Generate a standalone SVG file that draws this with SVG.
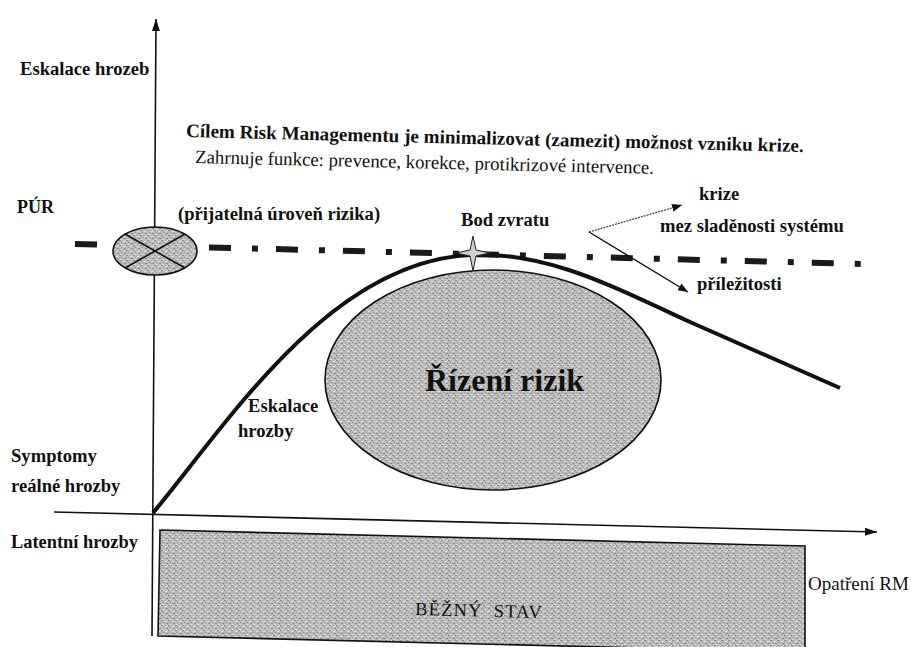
<svg xmlns="http://www.w3.org/2000/svg" width="911" height="647" viewBox="0 0 911 647">
<style>
text { font-family: "Liberation Serif", "Times New Roman", serif; fill: #111; }
.b { font-weight: bold; font-size: 18.6px; }
.r { font-size: 18.8px; }
.ax { stroke: #111; stroke-width: 1.6; fill: none; }
.tex { fill: url(#stip); stroke: #111; stroke-width: 1.6; }
</style>
<defs>
<pattern id="stip" width="7" height="5" patternUnits="userSpaceOnUse">
<rect width="7" height="5" fill="#bababa"/>
<rect x="0" y="0" width="2" height="1" fill="#8a8a8a"/>
<rect x="4" y="1" width="2" height="1" fill="#e0e0e0"/>
<rect x="2" y="2" width="1" height="1" fill="#969696"/>
<rect x="5" y="3" width="2" height="1" fill="#8a8a8a"/>
<rect x="1" y="4" width="2" height="1" fill="#dedede"/>
<rect x="6" y="0" width="1" height="1" fill="#dcdcdc"/>
</pattern>
<marker id="ah" viewBox="0 0 12 8" refX="12" refY="4" markerWidth="12" markerHeight="8" markerUnits="userSpaceOnUse" orient="auto">
<path d="M0,0 L12,4 L0,8 Z" fill="#111"/>
</marker>
<marker id="ahs" viewBox="0 0 10 8" refX="10" refY="4" markerWidth="10" markerHeight="8" markerUnits="userSpaceOnUse" orient="auto">
<path d="M0,0 L10,4 L0,8 Z" fill="#111"/>
</marker>
</defs>

<g id="connectors">
<path id="axis-y" class="ax" d="M152,636 L156,19" marker-end="url(#ah)"/>
<path id="axis-x" class="ax" d="M54,512 L877,532" marker-end="url(#ah)"/>
<path id="pur-line" d="M75,244 L862,264" stroke="#1a1a1a" stroke-width="6" stroke-dasharray="22 21 6 18" fill="none"/>
<path id="curve" d="M153,513 C230,420 330,262 470,255 C545,251 610,285 690,322 L840,388" stroke="#111" stroke-width="4" fill="none"/>
<path id="arrow-krize" d="M589,232 L682,205" stroke="#444" stroke-width="1.3" stroke-dasharray="2 1" fill="none" marker-end="url(#ahs)"/>
<path id="arrow-prilezitosti" d="M589,232 L688,292" stroke="#111" stroke-width="1.4" fill="none" marker-end="url(#ahs)"/>
</g>

<g id="bezny-stav">
<polygon class="tex" points="160,530 805,546 805,652 158,636"/>
<text class="r" x="415" y="615" style="font-size:18.5px" letter-spacing="1.2" word-spacing="5" transform="rotate(1.4 415 615)">BĚŽNÝ STAV</text>
</g>

<g id="rizeni-rizik">
<ellipse class="tex" cx="493" cy="380" rx="168" ry="110" stroke-width="1.3"/>
<text x="425" y="391" style="font-size:32px;font-weight:bold">Řízení rizik</text>
</g>

<g id="pur-node">
<ellipse class="tex" cx="155" cy="251" rx="42" ry="24"/>
<path d="M125,234 L185,268 M125,268 L185,234" stroke="#111" stroke-width="1.6"/>
</g>

<g id="bod-zvratu">
<path d="M473,236 L476,250 L490,253 L476,256 L473,271 L470,256 L456,253 L470,250 Z" fill="#d0d0d0" stroke="#222" stroke-width="1"/>
<text class="b" x="461" y="226">Bod zvratu</text>
</g>

<g id="labels">
<text class="b" x="20" y="75">Eskalace hrozeb</text>
<text class="b" x="17" y="213" style="font-size:18px">PÚR</text>
<text class="b" x="178" y="220">(přijatelná úroveň rizika)</text>
<text class="b" x="186" y="137" style="font-size:19.1px" transform="rotate(1.4 186 137)">Cílem Risk Managementu je minimalizovat (zamezit) možnost vzniku krize.</text>
<text class="r" x="195" y="163" transform="rotate(1.35 195 163)">Zahrnuje funkce: prevence, korekce, protikrizové intervence.</text>
<text class="b" x="699" y="200">krize</text>
<text class="b" x="660" y="232">mez sladěnosti systému</text>
<text class="b" x="697" y="290">příležitosti</text>
<text class="b" x="248" y="412">Eskalace</text>
<text class="b" x="238" y="437">hrozby</text>
<text class="b" x="11" y="462">Symptomy</text>
<text class="b" x="11" y="492">reálné hrozby</text>
<text class="b" x="11" y="548" style="font-size:18.4px">Latentní hrozby</text>
<text class="r" x="808" y="590" style="font-size:19px">Opatření RM</text>
</g>
</svg>
